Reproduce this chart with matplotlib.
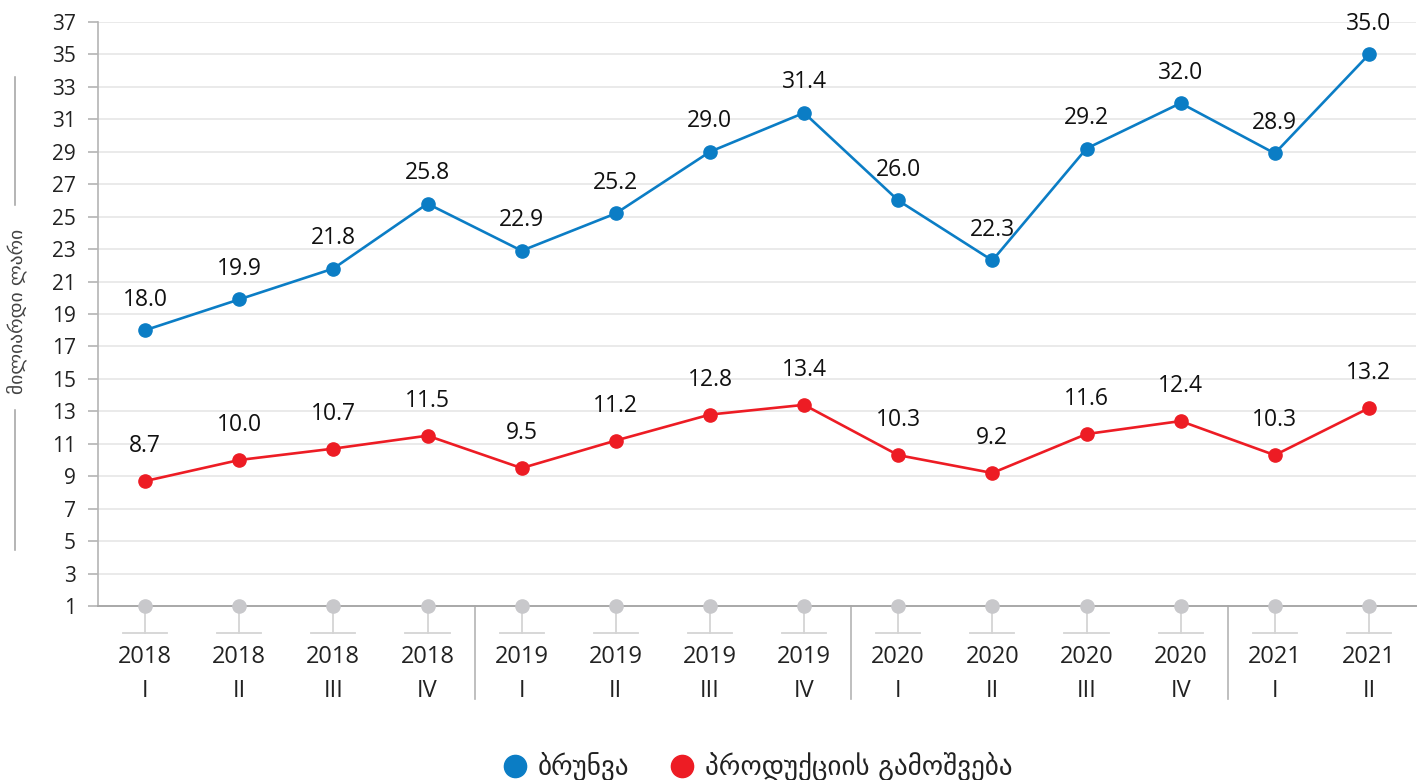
import numpy as np
import matplotlib
matplotlib.use("Agg")
import matplotlib.pyplot as plt
from matplotlib.lines import Line2D
import matplotlib.transforms as mtransforms

plt.rcParams['font.family'] = ['Open Sans', 'DejaVu Sans']

# data
years = ['2018', '2018', '2018', '2018', '2019', '2019', '2019', '2019',
         '2020', '2020', '2020', '2020', '2021', '2021']
quarters = ['I', 'II', 'III', 'IV', 'I', 'II', 'III', 'IV',
            'I', 'II', 'III', 'IV', 'I', 'II']
turnover = [18.0, 19.9, 21.8, 25.8, 22.9, 25.2, 29.0, 31.4, 26.0, 22.3, 29.2, 32.0, 28.9, 35.0]
output = [8.7, 10.0, 10.7, 11.5, 9.5, 11.2, 12.8, 13.4, 10.3, 9.2, 11.6, 12.4, 10.3, 13.2]
yticks = list(range(1, 38, 2))
year_breaks = [3.5, 7.5, 11.5]

blue = '#0b7dc5'
red = '#ed1c24'
dotgray = '#c8c8cb'
axgray = '#b4b4b4'

fig = plt.figure(figsize=(14.23, 7.8), dpi=100)
ax = fig.add_axes([98/1423, 1-606/780, (1416-98)/1423, 584/780])

x = np.arange(len(years))
ax.set_xlim(-0.5, len(years) - 0.5)
ax.set_ylim(1, 37)

# grid
for yv in yticks[1:]:
    ax.axhline(yv, color='#e6e6e6', lw=1.2, zorder=0)

ax.plot(x, turnover, color=blue, lw=1.9, marker='o', ms=9.5, zorder=3)
ax.plot(x, output, color=red, lw=1.9, marker='o', ms=9.5, zorder=3)

for xi, v in zip(x, turnover):
    ax.annotate(f'{v:.1f}', (xi, v), xytext=(0, 22), textcoords='offset points',
                ha='center', va='center', fontsize=16.5, color='#111111')
for xi, v in zip(x, output):
    ax.annotate(f'{v:.1f}', (xi, v), xytext=(0, 25), textcoords='offset points',
                ha='center', va='center', fontsize=16.5, color='#111111')

# gray base markers with stems
unit = 36 / 584.0
stem_bottom = 1 - 27 * unit
for xi in x:
    ax.plot([xi, xi], [1, stem_bottom], color='#d4d4d4', lw=1.3, clip_on=False, zorder=2)
    ax.plot([xi - 0.235, xi + 0.235], [stem_bottom, stem_bottom], color='#d4d4d4',
            lw=1.3, clip_on=False, zorder=2)
ax.plot(x, [1] * len(x), 'o', color=dotgray, ms=9.5, clip_on=False, zorder=4)

for b in year_breaks:
    ax.plot([b, b], [1, 1 - 93 * unit], color=axgray, lw=1.2, clip_on=False)

# axes styling
for s in ['top', 'right']:
    ax.spines[s].set_visible(False)
ax.spines['left'].set_color(axgray)
ax.spines['bottom'].set_color('#a8a8a8')
ax.spines['left'].set_linewidth(1.2)
ax.spines['bottom'].set_linewidth(1.4)
ax.set_yticks(yticks)
ax.tick_params(axis='y', length=7, width=1.2, color=axgray, pad=9,
               labelsize=15, labelcolor='#222222')
ax.set_xticks([])

trans = mtransforms.blended_transform_factory(ax.transData, ax.transAxes)
for xi, yr, q in zip(x, years, quarters):
    ax.text(xi, -51/584, yr, transform=trans, ha='center', va='center',
            fontsize=17, color='#222222')
    ax.text(xi, -85/584, q, transform=trans, ha='center', va='center',
            fontsize=17, color='#222222')

# y label with lines
fig.text(17/1423, 1-311/780, 'მილიარდი ლარი', rotation=90, ha='center', va='center',
         fontsize=14, color='#444444', family=['DejaVu Sans'])
fig.add_artist(Line2D([15/1423, 15/1423], [1-77/780, 1-205/780], color='#a0a0a0', lw=1.1))
fig.add_artist(Line2D([15/1423, 15/1423], [1-410/780, 1-550/780], color='#a0a0a0', lw=1.1))

handles = [Line2D([], [], ls='none', marker='o', ms=16, color=blue),
           Line2D([], [], ls='none', marker='o', ms=16, color=red)]
fig.legend(handles, ['ბრუნვა', 'პროდუქციის გამოშვება'], loc='center',
           bbox_to_anchor=(756/1423, 1-767/780), ncol=2, frameon=False,
           prop={'family': ['DejaVu Sans'], 'size': 19.5}, handletextpad=0.3,
           columnspacing=1.4, handlelength=1.1, labelcolor='#222222')

fig.savefig('out.png', dpi=100)
